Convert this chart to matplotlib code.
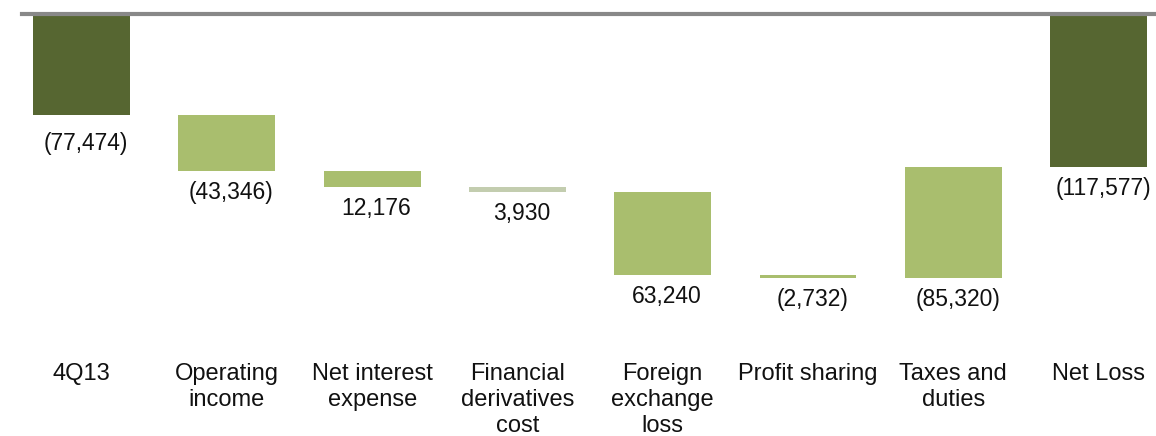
import matplotlib
matplotlib.use("Agg")
import matplotlib.pyplot as plt
import numpy as np

categories = ["4Q13", "Operating\nincome", "Net interest\nexpense", "Financial\nderivatives\ncost",
              "Foreign\nexchange\nloss", "Profit sharing", "Taxes and\nduties", "Net Loss"]
start_value = -77474
deltas = [-43346, -12176, -3930, -63240, -2732, 85320]
end_value = -117577
value_labels = ["(77,474)", "(43,346)", "12,176", "3,930", "63,240", "(2,732)", "(85,320)", "(117,577)"]

dark = "#566631"
light = "#a9be6e"
pale = "#c3cdaf"
colors = [dark, light, light, pale, light, light, light, dark]

# build waterfall geometry
bottoms, heights = [0], [start_value]
level = start_value
for d in deltas:
    bottoms.append(level)
    heights.append(d)
    level += d
bottoms.append(0)
heights.append(end_value)
bottoms = np.array(bottoms, dtype=float)
heights = np.array(heights, dtype=float)
lows = np.minimum(bottoms, bottoms + heights)

FONT = ["Liberation Sans", "DejaVu Sans"]

W, H = 1156, 436
fig = plt.figure(figsize=(W / 100, H / 100), dpi=100)
ax = fig.add_axes([22 / W, 1 - 360 / H, (W - 22) / W, (360 - 14) / H])

x = np.arange(len(categories))
ax.bar(x, heights, bottom=bottoms, width=0.667, color=colors, zorder=2)
ax.axhline(0, color="#888888", lw=3, zorder=3, clip_on=False)

for i, (xi, lo, lab) in enumerate(zip(x, lows, value_labels)):
    off = -12 if i == 0 else -7
    ax.annotate(lab, (xi + 0.03, lo), xytext=(0, off), textcoords="offset points",
                ha="center", va="top", fontsize=16.5, color="#111111", family=FONT)

ax.set_xlim(-0.41, 7.395)
ax.set_ylim(-346 / 1.303 * 1000, 0)
ax.set_xticks(x)
ax.set_xticklabels(categories, fontsize=17, family=FONT,
                   linespacing=1.24, color="#111111")
ax.tick_params(axis="x", length=0, pad=2)
ax.set_yticks([])
for s in ax.spines.values():
    s.set_visible(False)

fig.savefig("out.png", dpi=100)
